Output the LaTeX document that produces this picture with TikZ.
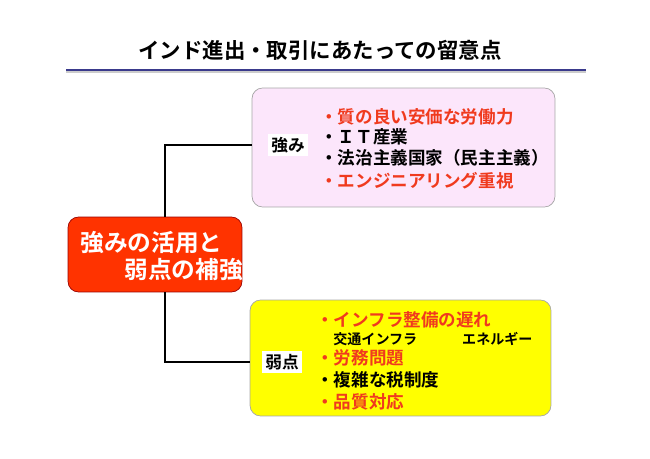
\documentclass[tikz,border=0pt]{standalone}
\usepackage{fontspec}
\setmainfont{Noto Sans CJK JP Bold}
\usetikzlibrary{positioning}
\definecolor{strongpink}{HTML}{FCE6FB}
\definecolor{weakyellow}{HTML}{FFFF00}
\definecolor{corered}{HTML}{FF3300}
\definecolor{itemred}{HTML}{F03A1E}
\definecolor{rulenavy}{HTML}{3A3A8C}
\begin{document}
\begin{tikzpicture}[x=0.02cm, y=-0.02cm]
\tikzset{
  panel/.style={draw=gray!70, rounded corners=6pt, inner sep=0pt},
  tag/.style={fill=white, inner sep=2pt, font=\fontsize{9.5}{11}\selectfont},
  item/.style={anchor=west, inner sep=0pt, font=\fontsize{10}{12}\selectfont},
  hot/.style={item, text=itemred},
  link/.style={draw=black, line width=1pt}
}
\useasboundingbox (0,0) rectangle (650,459);

% Title
\node[font=\fontsize{12.2}{14}\selectfont] (title) at (320,50) {インド進出・取引にあたっての留意点};
\draw[gray!40, line width=1.2pt] (66,72) -- (586,72);
\draw[rulenavy, line width=1.6pt] (66,70) -- (586,70);

% Boxes
\node[panel, fill=strongpink, minimum width=6.06cm, minimum height=2.38cm] (strong) at (403.5,147.5) {};
\node[panel, fill=weakyellow, minimum width=6.02cm, minimum height=2.32cm] (weak) at (400.5,358) {};
\node[panel, draw=red!60!black, fill=corered, minimum width=3.48cm, minimum height=1.5cm] (core) at (155,254.5) {};
\node[item, text=white, font=\fontsize{13.5}{15}\selectfont] (core1) at (80,243) {強みの活用と};
\node[item, text=white, font=\fontsize{13.5}{15}\selectfont] (core2) at (124,270) {弱点の補強};

% Connectors
\coordinate (trunk) at (165,145);
\coordinate (root) at (165,362);
\draw[link] (strong.west |- trunk) -- (trunk) -- (trunk |- core.north);
\draw[link] (root |- core.south) -- (root) -- (weak.west |- root);

% Strengths
\node[tag] (strongtag) at (288,145) {強み};
\node[hot] (s1) at (320,117) {・質の良い安価な労働力};
\node[item] (s2) at (320,137) {・ＩＴ産業};
\node[item] (s3) at (320,158) {・法治主義国家（民主主義）};
\node[hot] (s4) at (320,181) {・エンジニアリング重視};

% Weaknesses
\node[tag] (weaktag) at (282,362) {弱点};
\node[hot] (w1) at (316,320) {・インフラ整備の遅れ};
\node[item, font=\fontsize{8}{9}\selectfont] (w1a) at (333,339) {交通インフラ\hspace{3.2em}エネルギー};
\node[hot] (w2) at (316,358) {・労務問題};
\node[item] (w3) at (316,380) {・複雑な税制度};
\node[hot] (w4) at (316,402) {・品質対応};
\end{tikzpicture}
\end{document}
